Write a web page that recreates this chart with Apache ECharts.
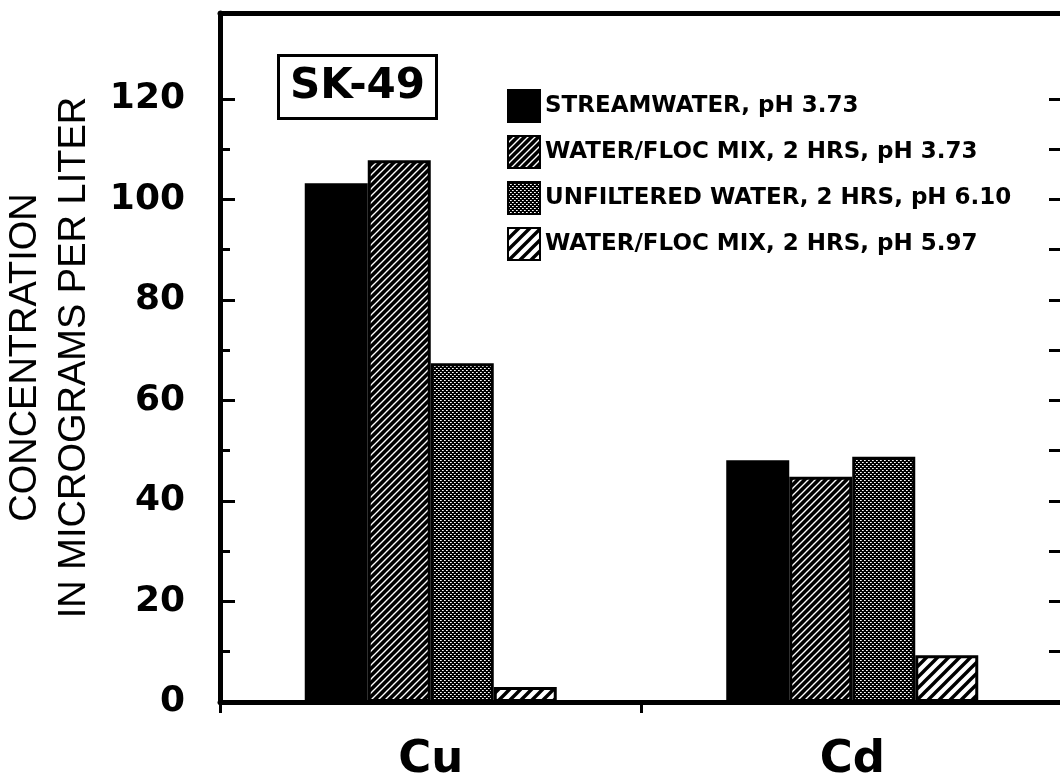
<!DOCTYPE html>
<html>
<head>
<meta charset="utf-8">
<script src="https://cdn.jsdelivr.net/npm/echarts@6/dist/echarts.min.js"></script>
<style>
  html, body { margin: 0; padding: 0; background: #fff; }
  #chart { width: 1060px; height: 783px; }
</style>
</head>
<body>
<div id="chart"></div>
<script>
// ---- data ----
const categories = ['Cu', 'Cd'];
const seriesNames = [
  'STREAMWATER, pH 3.73',
  'WATER/FLOC MIX, 2 HRS, pH 3.73',
  'UNFILTERED WATER, 2 HRS, pH 6.10',
  'WATER/FLOC MIX, 2 HRS, pH 5.97'
];
const streamwater = [103.2, 48.1];
const mixLowPH = [107.8, 44.8];
const unfiltered = [67.4, 48.8];
const mixHighPH = [3.0, 9.3];
const yLabelValues = [0, 20, 40, 60, 80, 100, 120];
const yMinorTickValues = [10, 30, 50, 70, 90, 110];
const rightTickValues = [10, 20, 30, 40, 50, 60, 70, 80, 90, 100, 110, 120];
const yMax = 137.1;
const panelLabel = 'SK-49';
const yTitle = 'CONCENTRATION\nIN MICROGRAMS PER LITER';

// ---- patterns ----
function hatch(size, bg, fg, lw) {
  const c = document.createElement('canvas');
  c.width = size; c.height = size;
  const g = c.getContext('2d');
  g.fillStyle = bg; g.fillRect(0, 0, size, size);
  g.strokeStyle = fg; g.lineWidth = lw;
  g.beginPath();
  g.moveTo(-1, size + 1); g.lineTo(size + 1, -1);
  g.moveTo(-size / 2 - 1, size / 2 + 1); g.lineTo(size / 2 + 1, -size / 2 - 1);
  g.moveTo(size / 2 - 1, size * 1.5 + 1); g.lineTo(size * 1.5 + 1, size / 2 - 1);
  g.stroke();
  return c;
}
function dots() {
  const c = document.createElement('canvas');
  c.width = 4; c.height = 4;
  const g = c.getContext('2d');
  g.fillStyle = '#000'; g.fillRect(0, 0, 4, 4);
  g.fillStyle = '#fff';
  g.fillRect(0, 0, 1, 1); g.fillRect(2, 2, 1, 1);
  g.fillStyle = '#bbb';
  g.fillRect(1, 0, 1, 1); g.fillRect(3, 2, 1, 1);
  return c;
}
const pDense = { image: hatch(7, '#000', '#fff', 1.4), repeat: 'repeat' };
const pDots = { image: dots(), repeat: 'repeat' };
const pLight = { image: hatch(11, '#fff', '#000', 3.4), repeat: 'repeat' };

const chart = echarts.init(document.getElementById('chart'));
const boldFont = 'DejaVu Sans';
const barW = 63;

chart.setOption({
  backgroundColor: '#fff',
  animation: false,
  title: {
    text: panelLabel,
    left: 278, top: 55,
    borderColor: '#000', borderWidth: 3,
    padding: [10, 12, 10, 12],
    textStyle: { fontFamily: boldFont, fontWeight: 'bold', fontSize: 42, lineHeight: 44, color: '#000' }
  },
  legend: {
    data: seriesNames,
    orient: 'vertical',
    left: 502, top: 84,
    itemWidth: 32, itemHeight: 32, itemGap: 12,
    icon: 'rect',
    textStyle: { fontFamily: boldFont, fontWeight: 'bold', fontSize: 23, color: '#000' }
  },
  grid: { left: 220, right: -3, top: 13, bottom: 81, containLabel: false, outerBoundsMode: 'none' },
  xAxis: [
    {
      type: 'category', data: categories, position: 'bottom',
      axisLine: { onZero: false, lineStyle: { color: '#000', width: 5 } },
      axisTick: { show: true, length: 11, inside: false, lineStyle: { color: '#000', width: 3 } },
      axisLabel: { margin: 36, fontFamily: boldFont, fontWeight: 'bold', fontSize: 45, color: '#000' }
    },
    {
      type: 'category', data: categories, position: 'top',
      axisLine: { onZero: false, lineStyle: { color: '#000', width: 5 } },
      axisTick: { show: false }, axisLabel: { show: false }
    }
  ],
  yAxis: [
    {
      type: 'value', min: 0, max: yMax, position: 'left',
      name: yTitle, nameLocation: 'middle', nameRotate: 90, nameGap: 115,
      nameTextStyle: { fontFamily: 'Liberation Sans', fontSize: 38, lineHeight: 49, color: '#000' },
      axisLine: { show: true, onZero: false, lineStyle: { color: '#000', width: 5 } },
      axisTick: { show: true, inside: true, length: 15, customValues: yLabelValues, lineStyle: { color: '#000', width: 3 } },
      axisLabel: { customValues: yLabelValues, margin: 35, fontFamily: boldFont, fontWeight: 'bold', fontSize: 36, color: '#000' },
      splitLine: { show: false }
    },
    {
      type: 'value', min: 0, max: yMax, position: 'left',
      axisLine: { show: false, onZero: false },
      axisTick: { show: true, inside: true, length: 10, customValues: yMinorTickValues, lineStyle: { color: '#000', width: 3 } },
      axisLabel: { show: false },
      splitLine: { show: false }
    },
    {
      type: 'value', min: 0, max: yMax, position: 'right',
      axisLine: { show: false, onZero: false },
      axisTick: { show: true, inside: true, length: 14, customValues: rightTickValues, lineStyle: { color: '#000', width: 3 } },
      axisLabel: { show: false },
      splitLine: { show: false }
    }
  ],
  series: [
    { name: seriesNames[0], type: 'bar', data: streamwater, barWidth: barW, barGap: '0%',
      itemStyle: { color: '#000', borderColor: '#000', borderWidth: 2 } },
    { name: seriesNames[1], type: 'bar', data: mixLowPH, barWidth: barW, barGap: '0%',
      itemStyle: { color: pDense, borderColor: '#000', borderWidth: 3 } },
    { name: seriesNames[2], type: 'bar', data: unfiltered, barWidth: barW, barGap: '0%',
      itemStyle: { color: pDots, borderColor: '#000', borderWidth: 3 } },
    { name: seriesNames[3], type: 'bar', data: mixHighPH, barWidth: barW, barGap: '0%',
      itemStyle: { color: pLight, borderColor: '#000', borderWidth: 3 } }
  ]
});
</script>
</body>
</html>
